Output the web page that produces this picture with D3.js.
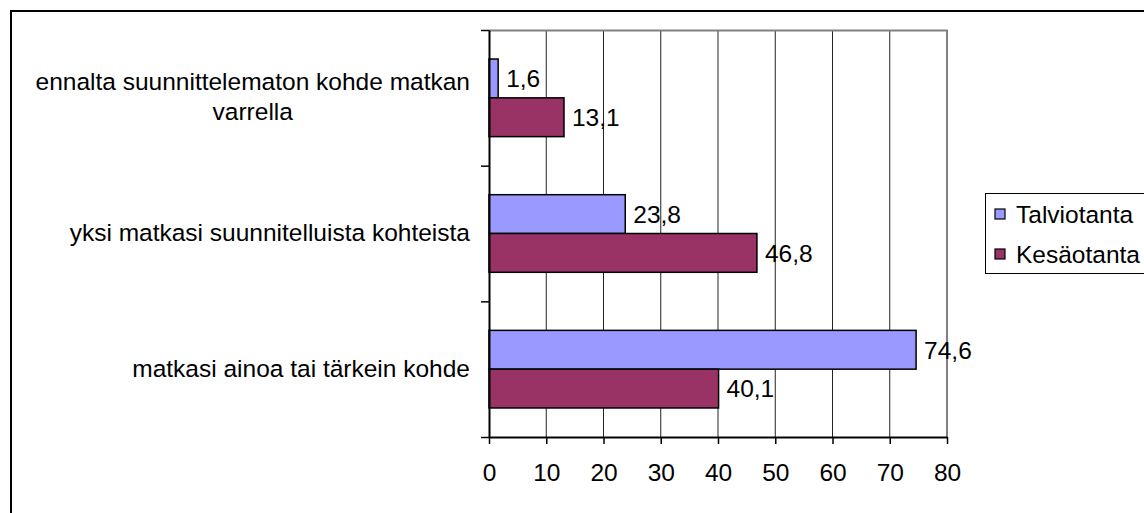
<!DOCTYPE html>
<html>
<head>
<meta charset="utf-8">
<script src="https://cdn.jsdelivr.net/npm/d3@7"></script>
<style>
	body { margin: 0; background: #fff; }
	svg { display: block; font-family: 'Liberation Sans', Arial, sans-serif; }
</style>
</head>
<body>
<svg id="chart"></svg>
<script>
// ========== DATA ==========
var categories = [
	['ennalta suunnittelematon kohde matkan', 'varrella'],
	['yksi matkasi suunnitelluista kohteista'],
	['matkasi ainoa tai tärkein kohde']
];
var series = ['Talviotanta', 'Kesäotanta'];
var talviValues = [1.6, 23.8, 74.6];
var kesaValues = [13.1, 46.8, 40.1];
var xTicks = [0, 10, 20, 30, 40, 50, 60, 70, 80];

var colors = ['#9999ff', '#993366'];
var fontSize = 24.5;

// ========== LAYOUT ==========
var width = 1144;
var height = 513;
var plotLeft = 489;
var plotRight = 947;
var plotTop = 30;
var plotBottom = 437;

var svg = d3.select('svg#chart')
	.attr('width', width)
	.attr('height', height);

// outer chart frame (runs past right/bottom edge like the source)
svg.append('rect')
	.attr('x', 11)
	.attr('y', 11)
	.attr('width', width + 20)
	.attr('height', height + 20)
	.attr('fill', 'none')
	.attr('stroke', '#000')
	.attr('stroke-width', 2);

var x = d3.scaleLinear()
	.domain([0, 80])
	.range([plotLeft, plotRight]);

var y = d3.scaleBand()
	.domain(d3.range(categories.length))
	.range([plotTop, plotBottom]);

var ySub = d3.scaleBand()
	.domain(d3.range(series.length))
	.range([y.bandwidth() * 0.214, y.bandwidth() * 0.786]);

// boundaries for the category axis ticks
var yEdges = d3.scaleLinear()
	.domain([0, categories.length])
	.range([plotTop, plotBottom]);

// gridlines
svg.append('g')
	.selectAll('line')
	.data(xTicks.slice(1, -1))
	.enter().append('line')
		.attr('x1', function(d) { return x(d); })
		.attr('x2', function(d) { return x(d); })
		.attr('y1', plotTop)
		.attr('y2', plotBottom)
		.attr('stroke', '#222')
		.attr('stroke-width', 1);

// plot area border (top + right)
svg.append('path')
	.attr('d', d3.line()([[plotLeft, plotTop + 0.5], [plotRight, plotTop + 0.5], [plotRight, plotBottom]]))
	.attr('fill', 'none')
	.attr('stroke', '#808080')
	.attr('stroke-width', 2);

// bars
var barData = [];
categories.forEach(function(c, i) {
	barData.push({ cat: i, s: 0, value: talviValues[i] });
	barData.push({ cat: i, s: 1, value: kesaValues[i] });
});

var fmt = d3.formatLocale({ decimal: ',', thousands: ' ', grouping: [3], currency: ['', ''] }).format('.1f');

svg.append('g')
	.selectAll('rect')
	.data(barData)
	.enter().append('rect')
		.attr('x', x(0))
		.attr('y', function(d) { return y(d.cat) + ySub(d.s); })
		.attr('width', function(d) { return x(d.value) - x(0); })
		.attr('height', ySub.bandwidth())
		.attr('fill', function(d) { return colors[d.s]; })
		.attr('stroke', '#000')
		.attr('stroke-width', 1.5);

svg.append('g')
	.selectAll('text')
	.data(barData)
	.enter().append('text')
		.attr('x', function(d) { return x(d.value) + 8; })
		.attr('y', function(d) { return y(d.cat) + ySub(d.s) + ySub.bandwidth() / 2; })
		.attr('dy', '0.36em')
		.attr('font-size', fontSize)
		.attr('fill', '#000')
		.text(function(d) { return fmt(d.value); });

// x axis
var xAxis = svg.append('g')
	.attr('transform', 'translate(0,' + plotBottom + ')')
	.call(d3.axisBottom(x).tickValues(xTicks).tickSize(7).tickSizeOuter(0).tickPadding(20));
xAxis.select('.domain').attr('stroke', '#000').attr('stroke-width', 2);
xAxis.selectAll('.tick line').attr('stroke', '#000').attr('stroke-width', 1.5);
xAxis.selectAll('.tick text')
	.attr('font-size', fontSize)
	.attr('font-family', 'Liberation Sans, Arial, sans-serif')
	.attr('fill', '#000');

// y axis (ticks at category boundaries)
var yAxis = svg.append('g')
	.attr('transform', 'translate(' + plotLeft + ',0)')
	.call(d3.axisLeft(yEdges).ticks(categories.length).tickFormat('').tickSize(8).tickSizeOuter(0));
yAxis.select('.domain').attr('stroke', '#000').attr('stroke-width', 2);
yAxis.selectAll('.tick line').attr('stroke', '#000').attr('stroke-width', 1.5);

// category labels: block right-aligned, lines centred in it
var lineH = 30;
var labelRight = 470;
var labels = svg.append('g')
	.selectAll('text')
	.data(categories)
	.enter().append('text')
		.attr('font-size', fontSize)
		.attr('fill', '#000')
		.attr('text-anchor', 'middle');

labels.each(function(lines, i) {
	var t = d3.select(this);
	var cy = y(i) + y.bandwidth() / 2;
	var startY = cy - (lines.length - 1) * lineH / 2;
	lines.forEach(function(l, j) {
		t.append('tspan')
			.attr('y', startY + j * lineH)
			.attr('dy', '0.3em')
			.text(l);
	});
	// measure widest line, then centre all lines in the block
	var w = 0;
	t.selectAll('tspan').each(function() { w = Math.max(w, this.getComputedTextLength()); });
	t.selectAll('tspan').attr('x', labelRight - w / 2);
});

// legend
var legend = svg.append('g');
legend.append('rect')
	.attr('x', 985.5)
	.attr('y', 193.5)
	.attr('width', 200)
	.attr('height', 80)
	.attr('fill', '#fff')
	.attr('stroke', '#000')
	.attr('stroke-width', 1);

var items = legend.selectAll('g.item')
	.data(series)
	.enter().append('g')
		.attr('class', 'item')
		.attr('transform', function(d, i) { return 'translate(0,' + (214 + i * 40) + ')'; });

items.append('rect')
	.attr('x', 995)
	.attr('y', -5)
	.attr('width', 10)
	.attr('height', 10)
	.attr('fill', function(d, i) { return colors[i]; })
	.attr('stroke', '#000')
	.attr('stroke-width', 1.2);

items.append('text')
	.attr('x', 1016)
	.attr('dy', '0.36em')
	.attr('font-size', fontSize)
	.attr('fill', '#000')
	.text(function(d) { return d; });
</script>
</body>
</html>
